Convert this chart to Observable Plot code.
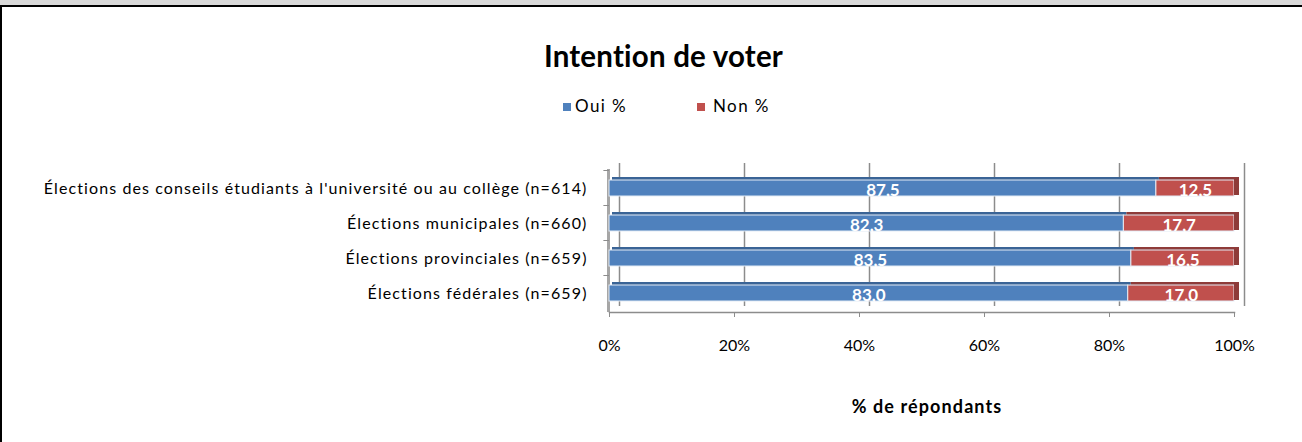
<!DOCTYPE html>
<html>
<head>
<meta charset="utf-8">
<script src="https://cdn.jsdelivr.net/npm/d3@7"></script>
<script src="https://cdn.jsdelivr.net/npm/@observablehq/plot@0.6"></script>
<style>
  html, body { margin: 0; padding: 0; background: #fff; overflow: hidden; }
  body { width: 1302px; height: 442px; position: relative; font-family: Lato, "Open Sans", sans-serif; }
  #strip { position: absolute; left: 0; top: 0; width: 1302px; height: 5px; background: #d9d9d9; }
  #topline { position: absolute; left: 0; top: 5px; width: 1302px; height: 2px; background: #000; }
  #leftline { position: absolute; left: 0; top: 5px; width: 2px; height: 437px; background: #000; }
  #title { position: absolute; left: 0; box-sizing: border-box; width: 1302px; padding-left: 25px; top: 38px; text-align: center; font-weight: bold; font-size: 29.5px; color: #000; letter-spacing: 0.2px; }
  #legend { position: absolute; top: 96px; left: 0; font-size: 17px; color: #000; }
  .sw { position: absolute; top: 7px; width: 8px; height: 8px; }
  .lt { position: absolute; top: 0; letter-spacing: 1.4px; line-height: 20px; white-space: nowrap; }
  #chart { position: absolute; left: 0; top: 140px; }
  #chart g[aria-label="y-axis tick label"] text { letter-spacing: 1.1px; }
  #chart .axis-title text { letter-spacing: 1.1px; }
</style>
</head>
<body>
<div id="strip"></div>
<div id="topline"></div>
<div id="leftline"></div>
<div id="title">Intention de voter</div>
<div id="legend"></div>
<div id="chart"></div>
<script>
const categories = [
  "Élections des conseils étudiants à l'université ou au collège (n=614)",
  "Élections municipales (n=660)",
  "Élections provinciales (n=659)",
  "Élections fédérales (n=659)"
];
const seriesNames = ["Oui %", "Non %"];
const oui = [87.5, 82.3, 83.5, 83.0];
const non = [12.5, 17.7, 16.5, 17.0];
const xTicks = [0, 20, 40, 60, 80, 100];
const axisTitle = "% de répondants";
const colors = ["#4f81bd", "#c0504d"];
const darkColors = ["#3a6496", "#8e3b39"];

// legend
const legend = document.getElementById("legend");
const swatchLefts = [563, 697];
const textLefts = [575, 713];
seriesNames.forEach((s, i) => {
  const sw = document.createElement("div");
  sw.className = "sw";
  sw.style.left = swatchLefts[i] + "px";
  sw.style.background = colors[i];
  legend.appendChild(sw);
  const t = document.createElement("div");
  t.className = "lt";
  t.style.left = textLefts[i] + "px";
  t.textContent = s;
  legend.appendChild(t);
});

const data = [];
categories.forEach((c, i) => {
  data.push({cat: c, series: seriesNames[0], value: oui[i], idx: 0});
  data.push({cat: c, series: seriesNames[1], value: non[i], idx: 1});
});
const fmt = v => v.toFixed(1).replace(".", ",");

const W = 1302, H = 300;
const chart = Plot.plot({
  width: W,
  height: H,
  marginLeft: 609,
  marginRight: 68,
  marginTop: 29,
  marginBottom: 128,
  style: {fontFamily: "Lato, 'Open Sans', sans-serif", fontSize: "16px", color: "#000", background: "transparent", overflow: "visible"},
  x: {domain: [0, 100], axis: null},
  y: {domain: categories, axis: null, label: null, paddingInner: 0.55, paddingOuter: 0.28},
  marks: [
    // back wall gridlines
    Plot.ruleX(xTicks, {stroke: "#8c8c8c", strokeWidth: 1.5, dx: 10, dy: -6}),
    // left wall
    Plot.ruleX([0], {stroke: "#a6a6a6", strokeWidth: 3, dx: -1}),
    // floor front line
    Plot.frame({anchor: "bottom", stroke: "#8c8c8c", strokeWidth: 1.5}),
    // left wall ticks between categories
    Plot.ruleY(categories, {y: d => d, x1: -0.9, x2: 0, stroke: "#8c8c8c", dy: -18}),
    // top faces of bars
    Plot.barX(data, Plot.stackX({
      x: "value", y: "cat", order: null,
      fill: d => darkColors[d.idx], insetBottom: 13, dy: -3, dx: 3
    })),
    // front faces
    Plot.barX(data, Plot.stackX({
      x: "value", y: "cat", order: null,
      fill: d => colors[d.idx], stroke: "#e3ebf5", strokeWidth: 1
    })),
    // right side face
    Plot.barX(categories, {x1: 100, x2: 100, y: d => d, insetRight: -5, insetTop: -2, fill: "#8e3b39", dy: -1}),
    // value labels
    Plot.text(data, Plot.stackX({
      x: "value", y: "cat", order: null,
      text: d => fmt(d.value), fill: "white", fontWeight: "bold", fontSize: 17, dy: 2
    })),
    // category labels
    Plot.axisY({tickSize: 0, tickPadding: 22, fontSize: 16, anchor: "left", label: null}),
    // x axis
    Plot.axisX(xTicks, {tickSize: 5, tickPadding: 22, tickFormat: d => d + "%", stroke: "#8c8c8c", fontSize: 16, anchor: "bottom", label: null}),
    Plot.text([axisTitle], {frameAnchor: "bottom", dy: 100, dx: 5, fontWeight: "bold", fontSize: 18, className: "axis-title"})
  ]
});
document.getElementById("chart").appendChild(chart);
</script>
</body>
</html>
